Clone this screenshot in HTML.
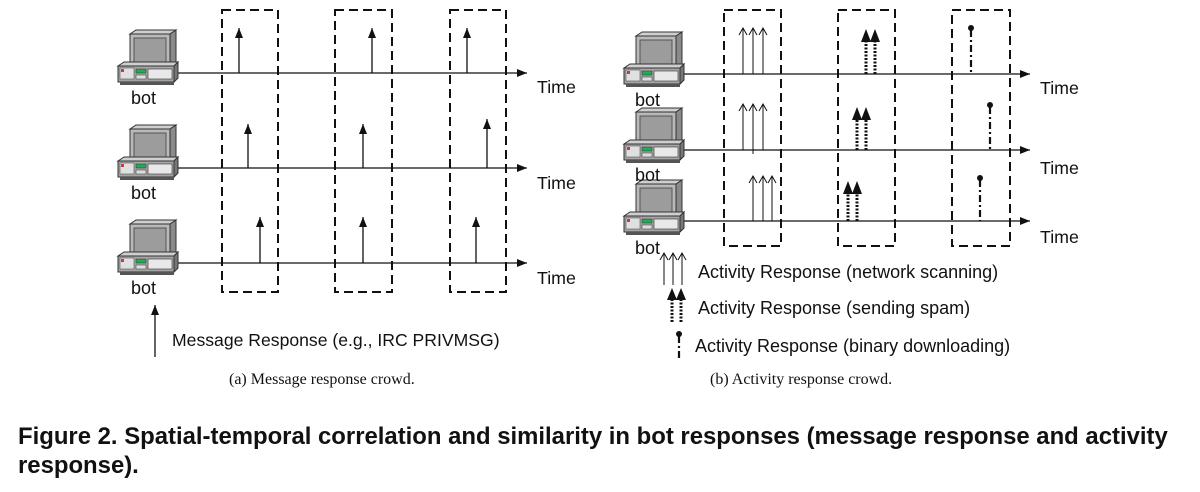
<!DOCTYPE html>
<html><head><meta charset="utf-8"><style>
html,body{margin:0;padding:0;background:#fff;}
svg{display:block;}
text{font-family:"Liberation Sans",sans-serif;fill:#111;}
.ser{font-family:"Liberation Serif",serif;}
</style></head><body>
<svg width="1200" height="492" viewBox="0 0 1200 492" xmlns="http://www.w3.org/2000/svg">
<defs>
<marker id="te" markerWidth="12" markerHeight="10" refX="10" refY="5" orient="auto" markerUnits="userSpaceOnUse">
<path d="M0,1 L10,5 L0,9 Z" fill="#111"/></marker>
<marker id="ah" markerWidth="12" markerHeight="10" refX="10" refY="5" orient="auto" markerUnits="userSpaceOnUse">
<path d="M0,1 L10,5 L0,9 Z" fill="#111"/></marker>
<marker id="oa" markerWidth="10" markerHeight="10" refX="8" refY="5" orient="auto" markerUnits="userSpaceOnUse">
<path d="M1,1 L8,5 L1,9" fill="none" stroke="#111" stroke-width="1"/></marker>
<g id="pc">
<path d="M12,4 L18,0 L58,0 L52,4 Z" fill="#cfcfcf" stroke="#333" stroke-width="1"/>
<path d="M52,4 L58,0 L58,32 L52,36 Z" fill="#8a8a8a" stroke="#333" stroke-width="1"/>
<rect x="12" y="4" width="40" height="32" fill="#b9b9b9" stroke="#333"/>
<rect x="16" y="8" width="32" height="24" fill="#9c9c9c" stroke="#555"/>
<path d="M0,36 L6,32 L60,32 L56,36 Z" fill="#cfcfcf" stroke="#333"/>
<path d="M56,36 L60,32 L60,48 L56,52 Z" fill="#777" stroke="#333"/>
<rect x="0" y="36" width="56" height="16" fill="#a5a5a5" stroke="#333"/>
<rect x="2" y="38" width="14" height="11" fill="#e0e0e0" stroke="#555" stroke-width="0.6"/>
<rect x="3" y="39" width="3" height="3" fill="#d33"/>
<rect x="18" y="39" width="10" height="4" fill="#2a5" stroke="#333" stroke-width="0.5"/>
<rect x="18" y="45" width="10" height="4" fill="#ddd" stroke="#333" stroke-width="0.5"/>
<rect x="30" y="39" width="24" height="10" fill="#e8e8e8" stroke="#333" stroke-width="0.6"/>
<rect x="2" y="52" width="54" height="3" fill="#555"/>
</g>
</defs>

<!-- LEFT PANEL -->
<g fill="none" stroke="#111" stroke-width="2" stroke-dasharray="9,5">
<rect x="222" y="10" width="56" height="282"/>
<rect x="335" y="10" width="57" height="282"/>
<rect x="450" y="10" width="56" height="282"/>
</g>
<g stroke="#111" stroke-width="1.3">
<line x1="170" y1="73" x2="527" y2="73" marker-end="url(#te)"/>
<line x1="170" y1="168" x2="527" y2="168" marker-end="url(#te)"/>
<line x1="170" y1="263" x2="527" y2="263" marker-end="url(#te)"/>
<line x1="239" y1="73" x2="239" y2="28" marker-end="url(#ah)"/>
<line x1="372" y1="73" x2="372" y2="28" marker-end="url(#ah)"/>
<line x1="467" y1="73" x2="467" y2="28" marker-end="url(#ah)"/>
<line x1="248" y1="168" x2="248" y2="124" marker-end="url(#ah)"/>
<line x1="363" y1="168" x2="363" y2="124" marker-end="url(#ah)"/>
<line x1="487" y1="168" x2="487" y2="119" marker-end="url(#ah)"/>
<line x1="260" y1="263" x2="260" y2="217" marker-end="url(#ah)"/>
<line x1="363" y1="263" x2="363" y2="217" marker-end="url(#ah)"/>
<line x1="476" y1="263" x2="476" y2="217" marker-end="url(#ah)"/>
<line x1="155" y1="357" x2="155" y2="305" marker-end="url(#ah)"/>
</g>
<use href="#pc" x="118" y="30"/>
<use href="#pc" x="118" y="125"/>
<use href="#pc" x="118" y="220"/>
<text x="131" y="104" font-size="18">bot</text>
<text x="131" y="199" font-size="18">bot</text>
<text x="131" y="294" font-size="18">bot</text>
<text x="537" y="93" font-size="17.8">Time</text>
<text x="537" y="189" font-size="17.8">Time</text>
<text x="537" y="284" font-size="17.8">Time</text>
<text x="172" y="346" font-size="17.6">Message Response (e.g., IRC PRIVMSG)</text>
<text x="229" y="384" font-size="16" class="ser">(a)  Message response crowd.</text>

<!-- RIGHT PANEL -->
<g fill="none" stroke="#111" stroke-width="2" stroke-dasharray="9,5">
<rect x="724" y="10" width="57" height="236"/>
<rect x="838" y="10" width="57" height="236"/>
<rect x="952" y="10" width="58" height="236"/>
</g>
<g stroke="#111" stroke-width="1.3">
<line x1="676" y1="74" x2="1030" y2="74" marker-end="url(#te)"/>
<line x1="676" y1="150" x2="1030" y2="150" marker-end="url(#te)"/>
<line x1="676" y1="221" x2="1030" y2="221" marker-end="url(#te)"/>
</g>
<g stroke="#111" stroke-width="1" fill="none">
<line x1="743" y1="74" x2="743" y2="28" marker-end="url(#oa)"/>
<line x1="753" y1="74" x2="753" y2="28" marker-end="url(#oa)"/>
<line x1="763" y1="74" x2="763" y2="28" marker-end="url(#oa)"/>
<line x1="743" y1="150" x2="743" y2="104" marker-end="url(#oa)"/>
<line x1="753" y1="154" x2="753" y2="104" marker-end="url(#oa)"/>
<line x1="763" y1="150" x2="763" y2="104" marker-end="url(#oa)"/>
<line x1="753" y1="221" x2="753" y2="176" marker-end="url(#oa)"/>
<line x1="763" y1="221" x2="763" y2="176" marker-end="url(#oa)"/>
<line x1="772" y1="221" x2="772" y2="176" marker-end="url(#oa)"/>
<line x1="664" y1="285" x2="664" y2="253" marker-end="url(#oa)"/>
<line x1="673" y1="285" x2="673" y2="253" marker-end="url(#oa)"/>
<line x1="682" y1="285" x2="682" y2="253" marker-end="url(#oa)"/>
</g>
<!-- spam arrows -->
<g stroke="#111" stroke-width="3" stroke-dasharray="2,1.5">
<line x1="866" y1="74" x2="866" y2="40"/><line x1="875" y1="74" x2="875" y2="40"/>
<line x1="857" y1="150" x2="857" y2="118"/><line x1="866" y1="150" x2="866" y2="118"/>
<line x1="848" y1="221" x2="848" y2="192"/><line x1="857" y1="221" x2="857" y2="192"/>
<line x1="672" y1="322" x2="672" y2="298"/><line x1="681" y1="322" x2="681" y2="298"/>
</g>
<g fill="#111">
<path d="M861,42 L866,29 L871,42Z"/><path d="M870,42 L875,29 L880,42Z"/>
<path d="M852,120 L857,107 L862,120Z"/><path d="M861,120 L866,107 L871,120Z"/>
<path d="M843,194 L848,181 L853,194Z"/><path d="M852,194 L857,181 L862,194Z"/>
<path d="M667,300 L672,288 L677,300Z"/><path d="M676,300 L681,288 L686,300Z"/>
</g>
<!-- download -->
<g stroke="#111" stroke-width="2.2" stroke-dasharray="7,3,2,3">
<line x1="971" y1="30" x2="971" y2="74"/>
<line x1="990" y1="107" x2="990" y2="150"/>
<line x1="980" y1="180" x2="980" y2="221"/>
<line x1="679" y1="336" x2="679" y2="358"/>
</g>
<g fill="#111">
<circle cx="971" cy="28" r="3"/><circle cx="990" cy="105" r="3"/><circle cx="980" cy="178" r="3"/><circle cx="679" cy="334" r="3"/>
</g>
<use href="#pc" x="624" y="32"/>
<use href="#pc" x="624" y="108"/>
<use href="#pc" x="624" y="180"/>
<text x="635" y="106" font-size="18">bot</text>
<text x="635" y="181" font-size="18">bot</text>
<text x="635" y="254" font-size="18">bot</text>
<text x="1040" y="94" font-size="17.8">Time</text>
<text x="1040" y="174" font-size="17.8">Time</text>
<text x="1040" y="243" font-size="17.8">Time</text>
<text x="698" y="278" font-size="18">Activity Response (network scanning)</text>
<text x="698" y="314" font-size="18">Activity Response (sending spam)</text>
<text x="695" y="352" font-size="18">Activity Response (binary downloading)</text>
<text x="710" y="384" font-size="16" class="ser">(b)  Activity response crowd.</text>

<text x="18" y="444" font-size="23.9" font-weight="bold">Figure 2. Spatial-temporal correlation and similarity in bot responses (message response and activity</text>
<text x="18" y="473" font-size="23.9" font-weight="bold">response).</text>
</svg>
</body></html>
